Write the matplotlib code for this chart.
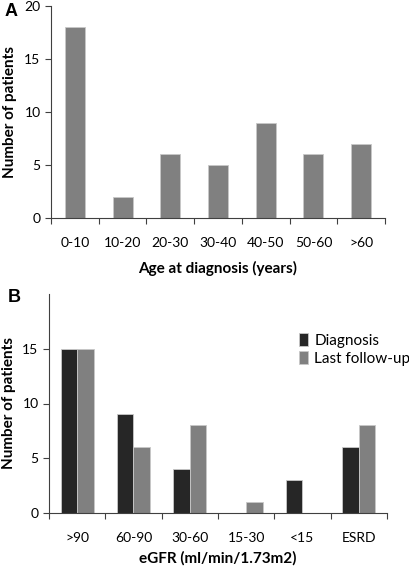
import matplotlib
matplotlib.use("Agg")
from matplotlib import pyplot as plt
import numpy as np

plt.rcParams['font.family'] = ['Lato', 'DejaVu Sans']

# Panel A data
age_groups = ['0-10', '10-20', '20-30', '30-40', '40-50', '50-60', '>60']
age_counts = [18, 2, 6, 5, 9, 6, 7]

# Panel B data
egfr_groups = ['>90', '60-90', '30-60', '15-30', '<15', 'ESRD']
egfr_diagnosis = [15, 9, 4, 0, 3, 6]
egfr_followup = [15, 6, 8, 1, 0, 8]

DARK = '#262626'
GRAY = '#808080'
W, H = 410, 569


def style_axes(ax, n):
    for side in ['top', 'right']:
        ax.spines[side].set_visible(False)
    for side in ['left', 'bottom']:
        ax.spines[side].set_color('#404040')
        ax.spines[side].set_linewidth(0.8)
    ax.set_xlim(-0.5, n - 0.5)
    ax.set_xticks(np.arange(n + 1) - 0.5, minor=False)
    ax.set_xticklabels([])
    ax.tick_params(axis='x', which='major', length=4, direction='out', color='#404040')
    ax.tick_params(axis='y', length=4, direction='out', color='#404040', labelsize=10)
    ax.tick_params(axis='x', which='minor', length=0, labelsize=10, pad=14)


fig = plt.figure(figsize=(W / 100, H / 100), dpi=100)

# Panel A
axA = fig.add_axes([51 / W, 1 - 218 / H, (385 - 51) / W, (218 - 6) / H])
x = np.arange(len(age_groups))
axA.bar(x, age_counts, width=0.42, color=GRAY, edgecolor='#c8c8c8', linewidth=0.6)
style_axes(axA, len(age_groups))
axA.set_xticks(x, minor=True)
axA.set_xticklabels(age_groups, minor=True)
axA.set_ylim(0, 20)
axA.set_yticks([0, 5, 10, 15, 20])
axA.set_ylabel('Number of patients', fontsize=11, fontweight='bold')
axA.yaxis.set_label_coords(17 / W, 1 - 112 / H, transform=fig.transFigure)
axA.set_xlabel('Age at diagnosis (years)', fontsize=11, fontweight='bold', labelpad=8)
fig.text(5 / W, 1 - 12 / H, 'A', fontsize=13, fontweight='bold', va='center', ha='left',
         family='Liberation Sans')

# Panel B
axB = fig.add_axes([49 / W, 1 - 513 / H, (387 - 49) / W, (513 - 294) / H])
xb = np.arange(len(egfr_groups))
bw = 0.29
axB.bar(xb - bw / 2, egfr_diagnosis, width=bw, color=DARK, edgecolor='#c8c8c8',
        linewidth=0.6, label='Diagnosis')
axB.bar(xb + bw / 2, egfr_followup, width=bw, color=GRAY, edgecolor='#c8c8c8',
        linewidth=0.6, label='Last follow-up')
style_axes(axB, len(egfr_groups))
axB.set_xticks(xb, minor=True)
axB.set_xticklabels(egfr_groups, minor=True)
axB.set_ylim(0, 20)
axB.set_yticks([0, 5, 10, 15])
axB.set_ylabel('Number of patients', fontsize=11, fontweight='bold')
axB.yaxis.set_label_coords(16 / W, 1 - 403 / H, transform=fig.transFigure)
axB.set_xlabel('eGFR (ml/min/1.73m2)', fontsize=11, fontweight='bold', labelpad=5)
axB.legend(loc='upper left', bbox_to_anchor=(0.74, 0.82), frameon=False, fontsize=11,
           handlelength=0.6, handleheight=0.9, handletextpad=0.4, labelspacing=0.2,
           borderaxespad=0, borderpad=0)
fig.text(8 / W, 1 - 297 / H, 'B', fontsize=13, fontweight='bold', va='center', ha='left',
         family='Liberation Sans')

fig.savefig('out.png', dpi=100)
